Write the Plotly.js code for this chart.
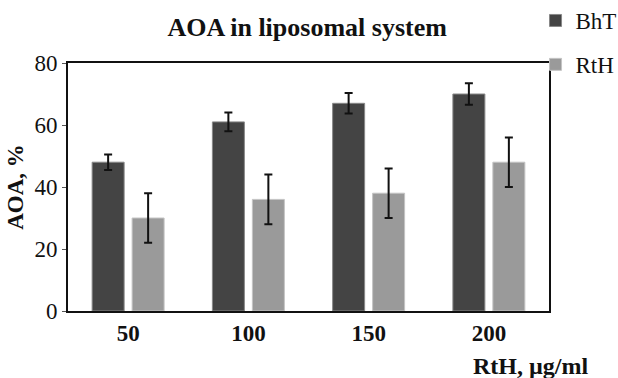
<!DOCTYPE html>
<html>
<head>
<meta charset="utf-8">
<script src="https://cdn.plot.ly/plotly-3.0.1.min.js"></script>
<style>html,body{margin:0;padding:0;background:#fff;}#chart{width:618px;height:378px;}</style>
</head>
<body>
<div id="chart"></div>
<script>
const categories = ['50', '100', '150', '200'];
const bhtValues = [48, 61, 67, 70];
const bhtErrors = [2.5, 3, 3.3, 3.5];
const rthValues = [30, 36, 38, 48];
const rthErrors = [8, 8, 8, 8];
const seriesNames = ['BhT', 'RtH'];
const yTicks = [0, 20, 40, 60, 80];

const serif = 'Liberation Serif, Times New Roman, serif';

const traces = [
  {
    type: 'bar', name: seriesNames[0], x: categories, y: bhtValues,
    legendgroup: 'a',
    marker: {color: '#444444', line: {color: '#888888', width: 1}},
    error_y: {type: 'data', array: bhtErrors, visible: true, color: '#111', thickness: 2, width: 4}
  },
  {
    type: 'bar', name: seriesNames[1], x: categories, y: rthValues,
    legendgroup: 'b',
    marker: {color: '#9a9a9a', line: {color: '#c4c4c4', width: 1}},
    error_y: {type: 'data', array: rthErrors, visible: true, color: '#111', thickness: 2, width: 4}
  }
];

const layout = {
  width: 618, height: 378,
  margin: {l: 68, r: 69, t: 63, b: 67, autoexpand: false},
  paper_bgcolor: '#fff', plot_bgcolor: '#fff',
  font: {family: serif, color: '#111', size: 21},
  title: {text: '<b>AOA in liposomal system</b>', x: 0.497, xanchor: 'center', y: 0.93, yanchor: 'middle',
          font: {family: serif, size: 26, color: '#111'}},
  barmode: 'group', bargap: 0.335, bargroupgap: 0.2,
  showlegend: true,
  legend: {x: 0.972, xanchor: 'left', y: 1.258, yanchor: 'top', tracegroupgap: 11,
           font: {family: serif, size: 23, color: '#111'}, bgcolor: 'rgba(0,0,0,0)'},
  xaxis: {type: 'category', showline: true, linecolor: '#111', linewidth: 2, mirror: true,
          ticks: '', tickfont: {family: serif, size: 23, color: '#111'},
          tickprefix: '<b>', ticksuffix: '</b>', fixedrange: true},
  yaxis: {range: [0, 80], tickvals: yTicks, showline: true, linecolor: '#111', linewidth: 2, mirror: true,
          showgrid: false, zeroline: false, ticks: 'outside', ticklen: 4, tickcolor: '#555',
          tickfont: {family: serif, size: 23, color: '#111'},
          title: {text: '<b>AOA, %</b>', standoff: 4, font: {family: serif, size: 23, color: '#111'}}},
  annotations: [{text: '<b>RtH, µg/ml</b>', xref: 'paper', yref: 'paper', x: 1.085, y: -0.222,
                 xanchor: 'right', yanchor: 'middle', showarrow: false,
                 font: {family: serif, size: 24, color: '#111'}}]
};

Plotly.newPlot('chart', traces, layout, {displayModeBar: false, staticPlot: true});
</script>
</body>
</html>
